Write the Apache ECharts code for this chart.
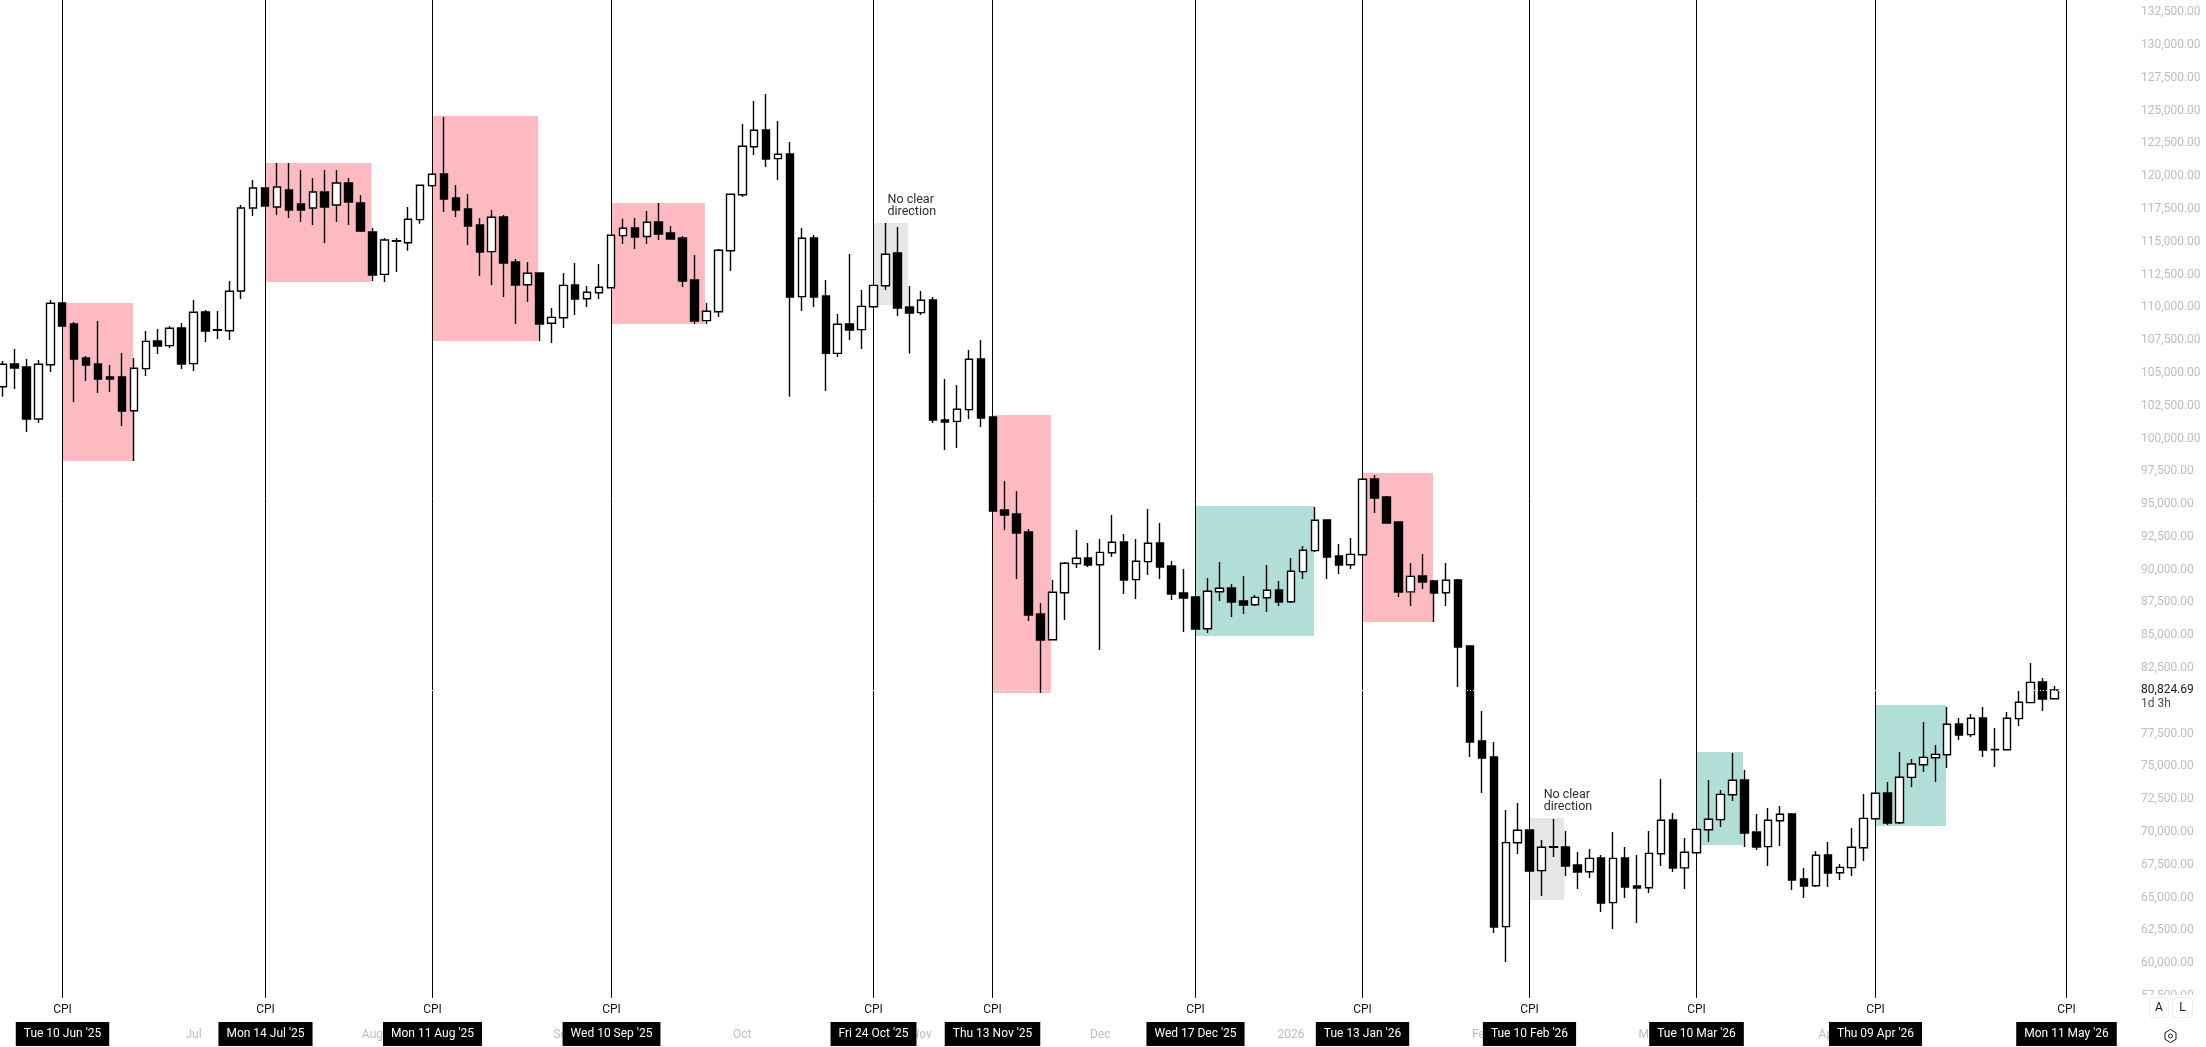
<!DOCTYPE html>
<html><head><meta charset="utf-8">
<style>html,body{margin:0;padding:0;background:#fff}#c{width:2206px;height:1047px}</style>
<script src="https://cdn.jsdelivr.net/npm/echarts@6/dist/echarts.min.js"></script>
</head><body><div id="c"></div>
<script>
const FONT = 'Roboto';
const CANDLE_SLOTS = 179;
const firstCandle = Date.UTC(2025, 4, 31);
const categories = Array.from({length: CANDLE_SLOTS}, (_, i) => new Date(firstCandle + i * 2 * 864e5).toISOString().slice(0, 10));

const opens = [
103950,105680,105450,101490,105630,110330,108730,106140,105680,104690,
104690,102120,105330,107440,107080,108430,105710,109650,108300,108220,
111250,117580,119100,117650,118950,117880,117580,118800,117810,119480,
117960,115750,112520,115080,114930,116690,119280,120170,118340,117500,
116280,114250,116890,113460,111730,112620,108790,109210,111710,110660,
111120,111500,115470,116050,115400,116510,115670,115290,112090,108990,
109670,114320,118590,122250,123530,121340,121700,110820,115290,110870,
106490,108730,108300,110050,111650,114150,110030,109600,110560,101410,
101310,102200,106060,101640,94550,94250,92870,86620,84660,88240,
90460,90890,90380,91290,92110,89240,90610,92030,90280,88220,
87920,85500,88320,88600,87610,87330,87860,88450,87560,89850,
91450,93790,91040,90380,91140,96910,95540,93640,88310,89520,
89140,88240,89210,84180,76940,75720,62780,69180,70150,67050,
68880,68850,67480,66970,68020,64610,68020,65880,65750,68340,
70910,67260,68420,70170,70940,72840,73960,70000,68880,70860,
71370,66410,65900,68240,66890,67280,68800,71010,72970,70700,
74160,75130,75660,75890,78230,77420,78690,76300,76270,78640,
79860,81430,80160];
const closes = [
105660,105380,101490,105660,110310,108580,106060,105610,104540,104540,
102100,105360,107410,107060,108410,105680,109630,108200,108250,111230,
117580,119100,117730,119180,117430,117430,118800,117650,119480,118040,
115820,112470,115140,115040,116720,119310,120150,118260,117430,116210,
114220,116870,113380,111710,112600,108730,109240,111680,110640,111150,
111530,115500,116030,115370,116490,115600,115210,112010,108960,109700,
114350,118620,122280,123500,121310,121670,110790,115270,110790,106490,
108710,108280,110080,111680,114050,109950,109570,110540,101410,101260,
102230,106040,101570,94470,94170,92800,86540,84640,88280,90490,
90870,90360,91320,92090,89210,90640,92010,90200,88150,87840,
85480,88350,88580,87530,87310,87890,88430,87530,89880,91480,
93770,90970,90360,91170,96890,95470,93560,88300,89490,89060,
88220,89190,84100,76860,75640,62750,69190,70130,67020,68830,
68830,67410,66950,67990,64580,67990,65800,65730,68370,70890,
67250,68450,70200,70970,72870,73940,69920,68850,70890,71350,
66340,65880,68220,66870,67300,68830,71040,72950,70690,74170,
75180,75690,75920,78210,77390,78670,76250,76260,78670,79890,
81410,80140,80824.69];
const lows = [
103190,103780,100500,101180,105070,108580,102790,104390,103470,103550,
100960,98290,104770,106450,106900,105300,105150,107360,107590,107510,
110640,116970,117730,117040,116820,116510,116280,114910,116510,116280,
115750,112010,111940,112700,114320,116380,119200,117270,116890,114760,
112390,111710,110790,108730,110410,107440,107280,108430,109420,110030,
110640,111500,114830,114450,114830,115140,115210,111560,108730,108730,
109270,112770,118420,121620,120700,119710,103190,109720,110030,103620,
106220,107510,106830,109980,111330,109340,106490,109420,101180,99130,
99280,101490,100880,94470,93030,89290,86090,80600,84640,86160,
90130,90200,83880,90970,88150,87760,89590,89290,87690,85250,
85480,85170,87610,86390,86620,87230,86770,87230,87460,89290,
91350,89290,89670,90050,91140,94320,93560,87920,87230,88530,
86010,87230,81050,75720,72970,62300,60090,68320,67020,65120,
68090,66640,65650,66490,63900,62600,64970,63060,65350,67410,
66950,65650,68420,69240,70380,72360,68850,68630,67410,68930,
65580,64970,65800,65800,66340,66640,67790,70990,70530,70610,
73430,74570,73810,74880,77010,77240,75720,74960,76250,78080,
79830,79220,80140];
const highs = [
105910,106830,106060,105990,110560,110330,108890,106290,108960,105610,
106520,106140,108200,108350,108580,108810,110560,109800,109720,112010,
117810,119710,119100,121010,121010,120480,119870,120480,120480,119870,
118570,116050,115290,115290,117650,119330,120170,124520,119330,118650,
116820,117430,117040,113690,113460,112620,109950,112620,113380,111630,
113310,115500,116760,116820,117350,117960,116210,115440,113990,110330,
114450,118650,123980,125740,126270,124210,122610,116050,115520,112090,
109500,114070,111330,111710,116430,116130,111630,111250,110790,104540,
104080,106750,107510,101640,96760,96000,93100,87460,89210,90590,
93030,92030,92340,94170,92720,92340,94630,93560,90660,90050,
87920,89370,90590,88910,89520,88070,90360,89140,90890,91810,
94780,93790,91960,92420,96890,97220,95620,93640,90510,91200,
89210,90510,89290,84180,79220,76860,71680,72210,70150,69390,
70990,70070,68470,68700,68240,70000,68850,68240,70070,74040,
71450,69540,70200,73960,73200,76020,74730,71370,71830,71980,
71450,67250,68550,69240,67560,70300,72900,72950,73810,76100,
75560,78390,76630,79530,78690,79000,79530,77930,79150,80750,
82880,81740,81130];

const lastPrice = 80824.69;
const lastPriceNote = '1d 3h';

// CPI release markers
const cpiIndex = [5,22,36,51,73,83,100,114,128,142,157,173];
const cpiDates = ["Tue 10 Jun '25","Mon 14 Jul '25","Mon 11 Aug '25","Wed 10 Sep '25","Fri 24 Oct '25","Thu 13 Nov '25","Wed 17 Dec '25","Tue 13 Jan '26","Tue 10 Feb '26","Tue 10 Mar '26","Thu 09 Apr '26","Mon 11 May '26"];
const cpiLineTop = 133600;
const cpiLineBottom = 57350;

// shaded reaction zones: start / end in candle slots, top / bottom in price
const zoneStart  = [5,22,36,51,73,83,100,114,128,142,157];
const zoneEnd    = [10.93,30.92,44.89,58.88,75.9,87.89,109.93,119.9,130.9,145.9,162.9];
const zoneTop    = [110330,121010,124590,117960,116430,101790,94860,97370,71070,76100,79680];
const zoneBottom = [98290,111940,107440,108730,110180,80600,84940,86010,64810,69010,70460];
const zoneKind   = ['down','down','down','down','flat','down','up','down','flat','up','up'];
const zoneColors = {down:'#fdbbc1', up:'#b1ded7', flat:'#e6e6e6'};
const flatNote = 'No clear\ndirection';

// month labels on the time axis
const monthIndex  = [1,16,31,47,62,77,92,108,124,138,153,168];
const monthLabels = ['Jun','Jul','Aug','Sep','Oct','Nov','Dec','2026','Feb','Mar','Apr','May'];

const yTickMin = 55000, yTickMax = 135000, yTickStep = 2500;

const chart = echarts.init(document.getElementById('c'), null, {renderer:'canvas'});
const candleData = opens.map((o,i)=>[o, closes[i], lows[i], highs[i]]);
const money = v => v.toLocaleString('en-US',{minimumFractionDigits:2,maximumFractionDigits:2});

function slotX(api, slot){
  const base = Math.floor(slot);
  return api.coord([base, 100000])[0] + (slot-base)*api.size([1,0])[0];
}

chart.setOption({
  animation:false,
  backgroundColor:'#ffffff',
  textStyle:{fontFamily:FONT},
  grid:{left:-3.365, top:-20.5, width:2135.47, height:1049.2, containLabel:false, outerBoundsMode:'none'},
  xAxis:{
    type:'category', data:categories, boundaryGap:true,
    axisLine:{show:false}, axisTick:{show:false}, splitLine:{show:false},
    axisLabel:{
      color:'#bdbdbd', fontFamily:FONT, fontSize:12, margin:0,
      showMinLabel:false, showMaxLabel:false, hideOverlap:false,
      interval:(i)=>monthIndex.includes(i),
      formatter:(v,i)=>{const k=monthIndex.indexOf(i);return k<0?'':monthLabels[k];}
    }
  },
  yAxis:{
    type:'value', position:'right', min:yTickMin, max:yTickMax, interval:yTickStep,
    axisLine:{show:false}, axisTick:{show:false}, splitLine:{show:false},
    axisLabel:{
      color:'#bdbdbd', fontFamily:FONT, fontSize:12, margin:9, align:'left',
      padding:[0,0,2.6,0], showMinLabel:false, showMaxLabel:false,
      formatter:v=> (v===80000||v<=yTickMin||v>=yTickMax)?'':money(v)
    }
  },
  graphic:[
    {type:'rect', z:100, shape:{x:2134,y:995,width:72,height:52}, style:{fill:'#fff'}},
    {type:'rect', z:101, shape:{x:2149.5,y:997.5,width:19,height:20,r:4}, style:{fill:'#fff',stroke:'#ececec'}},
    {type:'rect', z:101, shape:{x:2172.5,y:997.5,width:20,height:20,r:4}, style:{fill:'#fff',stroke:'#ececec'}},
    {type:'text', z:102, x:2159, y:1008, style:{text:'A',fill:'#131722',font:'12px '+FONT,align:'center',verticalAlign:'middle'}},
    {type:'text', z:102, x:2182.5, y:1008, style:{text:'L',fill:'#131722',font:'12px '+FONT,align:'center',verticalAlign:'middle'}},
    {type:'polygon', z:102, shape:{points:[[2170.5,1029.5],[2176,1032.7],[2176,1039.3],[2170.5,1042.5],[2165,1039.3],[2165,1032.7]]}, style:{fill:'none',stroke:'#131722',lineWidth:1}},
    {type:'circle', z:102, shape:{cx:2170.5,cy:1036,r:2}, style:{fill:'none',stroke:'#131722',lineWidth:1}}
  ],
  series:[
    {
      type:'custom', name:'zones', z:1, clip:false, silent:true,
      data:zoneStart.map((s,i)=>[s, zoneTop[i]]),
      encode:{x:0,y:1},
      renderItem:(params,api)=>{
        const i=params.dataIndex;
        const x0=slotX(api,zoneStart[i]), x1=slotX(api,zoneEnd[i]);
        const y0=api.coord([zoneStart[i],zoneTop[i]])[1], y1=api.coord([zoneStart[i],zoneBottom[i]])[1];
        const kids=[{type:'rect',shape:{x:x0,y:y0,width:x1-x0,height:y1-y0},style:{fill:zoneColors[zoneKind[i]]}}];
        if(zoneKind[i]==='flat'){
          kids.push({type:'text',x:x0+14,y:y0-17,style:{text:flatNote,fill:'#2a2e39',font:'12.5px '+FONT,lineHeight:12,align:'left',verticalAlign:'middle'}});
        }
        return {type:'group',children:kids};
      }
    },
    {
      type:'custom', name:'CPI', z:2, clip:false, silent:true,
      data:cpiIndex.map(i=>[i, cpiLineTop]),
      encode:{x:0,y:1},
      renderItem:(params,api)=>{
        const i=params.dataIndex;
        const x=Math.floor(api.coord([cpiIndex[i],cpiLineTop])[0])+0.5;
        const y0=api.coord([cpiIndex[i],cpiLineTop])[1], y1=api.coord([cpiIndex[i],cpiLineBottom])[1];
        return {type:'group',children:[
          {type:'line',shape:{x1:x,y1:y0,x2:x,y2:y1},style:{stroke:'#000',lineWidth:1}},
          {type:'text',x:x,y:1010,style:{text:'CPI',fill:'#131722',font:'12px '+FONT,align:'center',verticalAlign:'middle'}},
          {type:'text',x:x,y:1034,style:{text:cpiDates[i],fill:'#fff',font:'12px '+FONT,align:'center',verticalAlign:'middle',backgroundColor:'#000',padding:[6,8,6,8]}}
        ]};
      }
    },
    {
      type:'candlestick', name:'BTC', z:3, barWidth:8, data:candleData, silent:true,
      itemStyle:{color:'#ffffff',color0:'#000000',borderColor:'#000000',borderColor0:'#000000',borderWidth:1.4}
    },
    {
      type:'custom', name:'last', z:4, clip:false, silent:true,
      data:[[opens.length-1,lastPrice]],
      encode:{x:0,y:1},
      renderItem:(params,api)=>{
        const y=Math.round(api.coord([opens.length-1,lastPrice])[1])+0.5;
        const r=params.coordSys.x+params.coordSys.width;
        return {type:'group',children:[
          {type:'line',shape:{x1:0,y1:y,x2:r,y2:y},style:{stroke:'#fff',lineWidth:1,lineDash:[1,2]}},
          {type:'text',x:r+9,y:y-0.5,style:{text:money(lastPrice),fill:'#131722',font:'12px '+FONT,align:'left',verticalAlign:'middle'}},
          {type:'text',x:r+9,y:y+13,style:{text:lastPriceNote,fill:'#4a4e59',font:'12px '+FONT,align:'left',verticalAlign:'middle'}}
        ]};
      }
    }
  ]
});
</script></body></html>
